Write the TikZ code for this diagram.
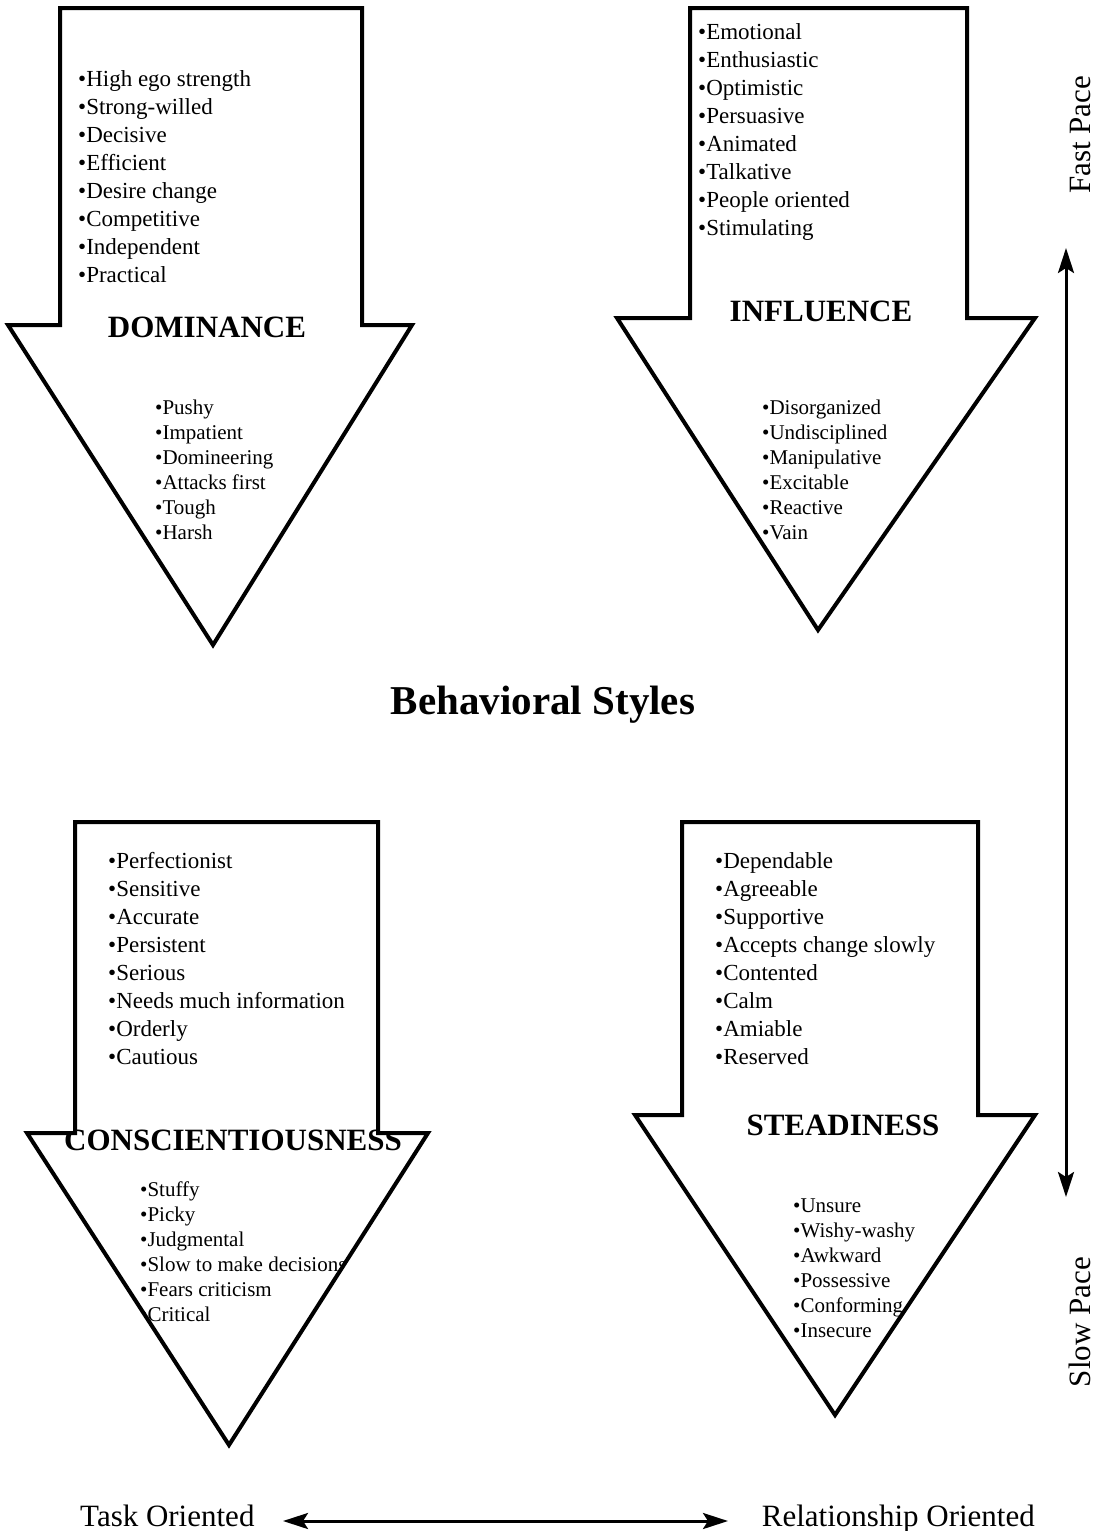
\documentclass[tikz,border=0pt]{standalone}
\usepackage{fontspec}
\setmainfont{Liberation Serif}
\usetikzlibrary{arrows.meta}

% outlines of the four style arrows (px from the top left)
\newcommand\domshape{(60,8) -- (362,8) -- (362,325) -- (412,325) -- (213,645) -- (8,325) -- (60,325) -- cycle}
\newcommand\infshape{(690,8) -- (967,8) -- (967,318) -- (1035,318) -- (818,630) -- (617,318) -- (690,318) -- cycle}
\newcommand\conshape{(75,822) -- (378,822) -- (378,1133) -- (428,1133) -- (229,1445) -- (27,1133) -- (75,1133) -- cycle}
\newcommand\steshape{(682,822) -- (978,822) -- (978,1115) -- (1035,1115) -- (835,1415) -- (635,1115) -- (682,1115) -- cycle}

\begin{document}
\begin{tikzpicture}[x=1pt,y=-1pt,
  outline/.style={line width=4pt,line join=miter},
  upitem/.style={anchor=base west,inner sep=0pt,font=\fontsize{23}{28}\selectfont},
  lowitem/.style={anchor=base west,inner sep=0pt,font=\fontsize{21}{25}\selectfont},
  stylename/.style={anchor=base,inner sep=0pt,font=\fontsize{31}{36}\selectfont\bfseries},
  endtext/.style={inner sep=0pt,font=\fontsize{31}{36}\selectfont},
  pace/.style={line width=3pt,{Stealth[length=25pt,width=16pt,inset=5pt]}-{Stealth[length=25pt,width=16pt,inset=5pt]}}]
\useasboundingbox (0,0) rectangle (1097,1531);

% Dominance
\begin{scope}
  \clip \domshape;
  \foreach \t [count=\i] in {High ego strength,Strong-willed,Decisive,Efficient,Desire change,Competitive,Independent,Practical}
    \node[upitem] (dom\i) at (78,{86+28*(\i-1)}) {\textbullet\t};
  \node[stylename] (dom) at (207,337) {DOMINANCE};
  \foreach \t [count=\i] in {Pushy,Impatient,Domineering,Attacks first,Tough,Harsh}
    \node[lowitem] (domlow\i) at (155,{414+25*(\i-1)}) {\textbullet\t};
\end{scope}
\draw[outline] \domshape;

% Influence
\begin{scope}
  \clip \infshape;
  \foreach \t [count=\i] in {Emotional,Enthusiastic,Optimistic,Persuasive,Animated,Talkative,People oriented,Stimulating}
    \node[upitem] (inf\i) at (698,{39+28*(\i-1)}) {\textbullet\t};
  \node[stylename] (inf) at (821,321) {INFLUENCE};
  \foreach \t [count=\i] in {Disorganized,Undisciplined,Manipulative,Excitable,Reactive,Vain}
    \node[lowitem] (inflow\i) at (762,{414+25*(\i-1)}) {\textbullet\t};
\end{scope}
\draw[outline] \infshape;

\node[font=\fontsize{41}{48}\selectfont\bfseries,anchor=base] (title) at (543,714) {Behavioral Styles};

% Conscientiousness
\begin{scope}
  \clip \conshape;
  \foreach \t [count=\i] in {Perfectionist,Sensitive,Accurate,Persistent,Serious,Needs much information,Orderly,Cautious}
    \node[upitem] (con\i) at (108,{868+28*(\i-1)}) {\textbullet\t};
  \node[stylename] (con) at (233,1150) {CONSCIENTIOUSNESS};
  \foreach \t [count=\i] in {Stuffy,Picky,Judgmental,Slow to make decisions,Fears criticism,Critical}
    \node[lowitem] (conlow\i) at (140,{1196+25*(\i-1)}) {\textbullet\t};
\end{scope}
\draw[outline] \conshape;

% Steadiness
\begin{scope}
  \clip \steshape;
  \foreach \t [count=\i] in {Dependable,Agreeable,Supportive,Accepts change slowly,Contented,Calm,Amiable,Reserved}
    \node[upitem] (ste\i) at (715,{868+28*(\i-1)}) {\textbullet\t};
  \node[stylename] (ste) at (843,1135) {STEADINESS};
  \foreach \t [count=\i] in {Unsure,Wishy-washy,Awkward,Possessive,Conforming,Insecure}
    \node[lowitem] (stelow\i) at (793,{1212+25*(\i-1)}) {\textbullet\t};
\end{scope}
\draw[outline] \steshape;

% pace axis
\node[endtext,rotate=90,anchor=base] (fasttext) at (1090,135) {Fast Pace};
\node[endtext,rotate=90,anchor=base] (slowtext) at (1090,1322) {Slow Pace};
\coordinate (fast) at (1066,248);
\coordinate (slow) at (1066,1197);
\draw[pace] (fast) -- (slow);

% orientation axis
\node[endtext,anchor=base west] (task) at (80,1526) {Task Oriented};
\node[endtext,anchor=base east] (rel) at (1035,1526) {Relationship Oriented};
\coordinate (taskend) at (283,1521);
\coordinate (relend) at (728,1521);
\draw[pace] (taskend) -- (relend);
\end{tikzpicture}
\end{document}
